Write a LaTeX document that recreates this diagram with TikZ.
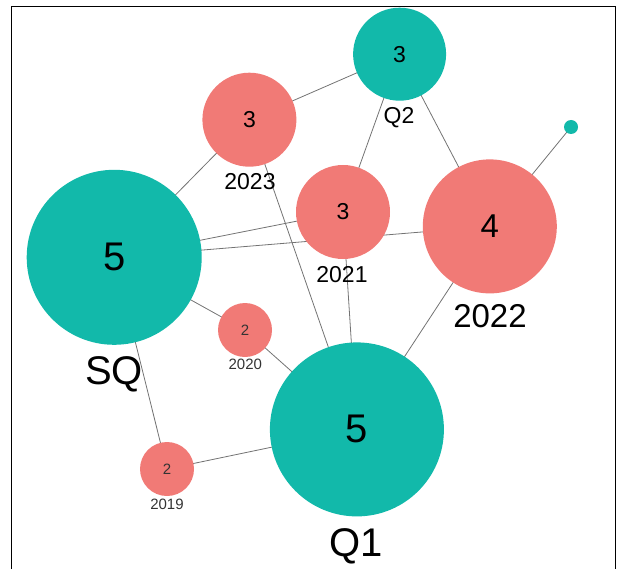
\documentclass[tikz,border=0pt]{standalone}
\usepackage{fontspec}
\setmainfont{Liberation Sans}
\usetikzlibrary{backgrounds}
\definecolor{tealnode}{RGB}{18,185,170}
\definecolor{salmonnode}{RGB}{241,122,118}

\begin{document}
\begin{tikzpicture}[x=1pt, y=-1pt,
    bubble/.style={circle, inner sep=0pt, minimum size=#1},
    groupnode/.style={bubble=#1, fill=tealnode},
    yearnode/.style={bubble=#1, fill=salmonnode},
    link/.style={black!55, line width=0.8pt}]
    \useasboundingbox (0,0) rectangle (617,569);
    \draw[line width=1.5pt] (11.5,569) -- (11.5,6.5) -- (615.5,6.5) -- (615.5,569);

    % bubbles
    \node[groupnode=175pt, font=\fontsize{40}{40}\selectfont] (sq) at (114.2,257.3) {5};
    \node[groupnode=174pt, font=\fontsize{40}{40}\selectfont] (q1) at (356.9,429.4) {5};
    \node[groupnode=93pt, font=\fontsize{23}{23}\selectfont] (q2) at (399.6,54.2) {3};
    \node[groupnode=14pt] (dot) at (571,127) {};
    \node[yearnode=94pt, font=\fontsize{23}{23}\selectfont] (y2023) at (249.4,119.7) {3};
    \node[yearnode=94pt, font=\fontsize{23}{23}\selectfont] (y2021) at (343,212) {3};
    \node[yearnode=134pt, font=\fontsize{33}{33}\selectfont] (y2022) at (489.8,226.4) {4};
    \node[yearnode=54pt, font=\fontsize{15}{15}\selectfont, text=black!80] (y2020) at (245,330) {2};
    \node[yearnode=54pt, font=\fontsize{15}{15}\selectfont, text=black!80] (y2019) at (167,469) {2};

    % names under the bubbles
    \node[font=\fontsize{40}{40}\selectfont] (lsq) at (114,374) {SQ};
    \node[font=\fontsize{40}{40}\selectfont] (lq1) at (356,546) {Q1};
    \node[font=\fontsize{23}{23}\selectfont] (lq2) at (399,118) {Q2};
    \node[font=\fontsize{23}{23}\selectfont] (l2023) at (250,181.5) {2023};
    \node[font=\fontsize{23}{23}\selectfont] (l2021) at (342,275) {2021};
    \node[font=\fontsize{33}{33}\selectfont] (l2022) at (490,316.5) {2022};
    \node[font=\fontsize{15}{15}\selectfont, text=black!80] (l2020) at (245.3,364.8) {2020};
    \node[font=\fontsize{15}{15}\selectfont, text=black!80] (l2019) at (167,504.5) {2019};

    \begin{scope}[on background layer]
        \draw[link] (y2023.center) -- (q2.center);
        \draw[link] (sq.center) -- (y2023.center);
        \draw[link] (q2.center) -- (y2021.center);
        \draw[link] (q2.center) -- (y2022.center);
        \draw[link] (y2023.center) -- (q1.center);
        \draw[link] (sq.center) -- (y2021.center);
        \draw[link] (sq.center) -- (y2022.center);
        \draw[link] (y2021.center) -- (q1.center);
        \draw[link] (y2022.center) -- (q1.center);
        \draw[link] (sq.center) -- (y2020.center);
        \draw[link] (y2020.center) -- (q1.center);
        \draw[link] (sq.center) -- (y2019.center);
        \draw[link] (y2019.center) -- (q1.center);
        \draw[link] (y2022.center) -- (dot.center);
    \end{scope}
\end{tikzpicture}
\end{document}
